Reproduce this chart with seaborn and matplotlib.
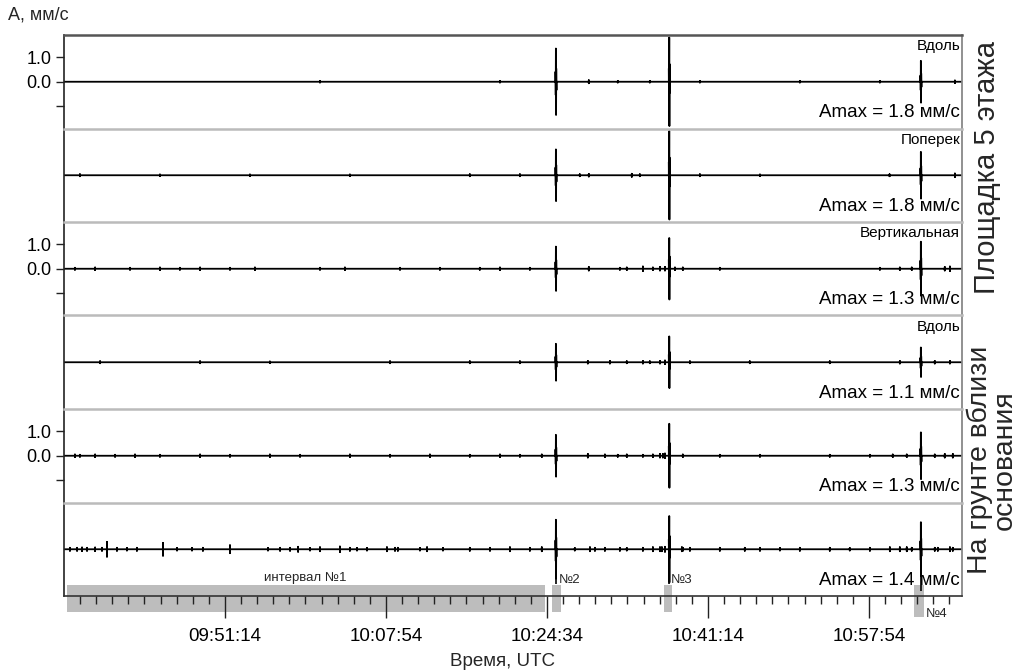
import numpy as np
import pandas as pd
import matplotlib
matplotlib.use("Agg")
import matplotlib.pyplot as plt
import seaborn as sns
from matplotlib.ticker import FixedLocator

sns.set_theme(style="ticks")
plt.rcParams['font.family'] = ['Liberation Sans', 'DejaVu Sans']

# ---------------- data ----------------
T_END = 5578                       # seconds after 09:34:34 (right edge of record)
event_times = [3056, 3760, 5323]   # strong events (№2, №3, №4)
channel_labels = ['Вдоль', 'Поперек', 'Вертикальная', 'Вдоль', '', '']
amax_values = [1.8, 1.8, 1.3, 1.1, 1.3, 1.4]
spike_amps = [
    [1.35, 1.80, 0.85],
    [1.05, 1.80, 0.95],
    [0.90, 1.25, 1.10],
    [0.75, 1.05, 0.60],
    [0.85, 1.30, 0.95],
    [1.20, 1.35, 1.10],
]
blips_p1 = [(1590, 0.03), (2708, 0.03), (3260, 0.06), (3440, 0.03), (3639, 0.03),
            (3950, 0.03), (4571, 0.03), (5068, 0.03), (5534, 0.05)]
blips_p2 = [(99, 0.04), (596, 0.03), (1155, 0.03), (1776, 0.03), (2521, 0.04),
            (2832, 0.04), (3204, 0.04), (3260, 0.05), (3527, 0.06), (3577, 0.04),
            (3950, 0.04), (4323, 0.03), (5128, 0.04), (5534, 0.07)]
blips_p3 = [(68, 0.04), (193, 0.05), (410, 0.04), (596, 0.05), (720, 0.04),
            (845, 0.05), (1031, 0.04), (1186, 0.05), (1590, 0.04), (1745, 0.05),
            (2087, 0.04), (2335, 0.04), (2583, 0.04), (2708, 0.05), (2894, 0.04),
            (3260, 0.07), (3453, 0.04), (3496, 0.05), (3596, 0.09), (3658, 0.05),
            (3702, 0.07), (3733, 0.07), (3795, 0.05), (3844, 0.05), (4074, 0.04),
            (5068, 0.04), (5192, 0.05), (5266, 0.05), (5471, 0.07), (5503, 0.09)]
blips_p4 = [(224, 0.04), (845, 0.04), (1279, 0.03), (2025, 0.04), (2521, 0.04),
            (2832, 0.04), (3254, 0.05), (3391, 0.05), (3496, 0.04), (3596, 0.05),
            (3639, 0.04), (3702, 0.05), (3733, 0.07), (3888, 0.04), (4260, 0.04),
            (4757, 0.04), (5192, 0.05), (5409, 0.05), (5503, 0.05)]
blips_p5 = [(68, 0.05), (99, 0.04), (193, 0.05), (317, 0.04), (441, 0.05),
            (596, 0.04), (845, 0.05), (1031, 0.04), (1279, 0.05), (1466, 0.04),
            (1776, 0.05), (2025, 0.04), (2273, 0.05), (2521, 0.04), (2708, 0.05),
            (2832, 0.04), (2968, 0.05), (3254, 0.07), (3360, 0.05), (3440, 0.04),
            (3496, 0.05), (3596, 0.04), (3658, 0.05), (3702, 0.07), (3720, 0.07),
            (3733, 0.09), (3844, 0.05), (4074, 0.04), (4323, 0.04), (4757, 0.04),
            (5006, 0.04), (5148, 0.05), (5235, 0.05), (5409, 0.05), (5471, 0.07),
            (5521, 0.07)]
blips_p6 = [(37, 0.06), (81, 0.06), (112, 0.07), (143, 0.06), (193, 0.07),
            (236, 0.06), (267, 0.30), (329, 0.06), (391, 0.05), (453, 0.06),
            (615, 0.26), (702, 0.05), (795, 0.05), (863, 0.06), (1031, 0.16),
            (1267, 0.05), (1342, 0.06), (1404, 0.06), (1454, 0.10), (1528, 0.05),
            (1590, 0.08), (1714, 0.11), (1776, 0.06), (1820, 0.05), (1882, 0.05),
            (2006, 0.08), (2056, 0.06), (2074, 0.06), (2211, 0.05), (2255, 0.08),
            (2354, 0.05), (2521, 0.06), (2646, 0.06), (2770, 0.08), (2894, 0.06),
            (2968, 0.08), (3173, 0.05), (3267, 0.08), (3298, 0.06), (3360, 0.06),
            (3453, 0.06), (3496, 0.05), (3596, 0.06), (3658, 0.08), (3702, 0.08),
            (3714, 0.08), (3733, 0.10), (3838, 0.08), (3844, 0.06), (3888, 0.06),
            (4074, 0.06), (4229, 0.06), (4323, 0.06), (4447, 0.05), (4571, 0.06),
            (4757, 0.06), (4881, 0.05), (5006, 0.06), (5130, 0.08), (5192, 0.08),
            (5235, 0.08), (5266, 0.06), (5409, 0.06), (5428, 0.06), (5503, 0.08),
            (5521, 0.06)]
blips = [blips_p1, blips_p2, blips_p3, blips_p4, blips_p5, blips_p6]

major_ticks = [1000, 2000, 3000, 4000, 5000]
major_labels = ['09:51:14', '10:07:54', '10:24:34', '10:41:14', '10:57:54']
interval_start = [19, 3031, 3727, 5280]
interval_end = [2987, 3087, 3776, 5342]
interval_names = ['интервал №1', '№2', '№3', '№4']

# ---------------- figure ----------------
W, H = 1017, 672
fig = plt.figure(figsize=(W / 100, H / 100), dpi=100)
left_px, right_px, top_px, bottom_px = 64, 962, 35, 596
panel_h = (bottom_px - top_px) / 6


def build_trace(bl, sp_amps):
    ev = [(t, a, 'b') for t, a in bl] + [(t, a, 's') for t, a in zip(event_times, sp_amps)]
    ev.sort()
    xs, ys = [0], [0]
    for t, a, kind in ev:
        if kind == 'b':
            xs += [t, t, t, t]
            ys += [0, a, -a, 0]
        else:
            xs += [t - 3, t - 3, t - 1.5, t - 0.5, t + 0.5, t + 1.5, t + 3, t + 3]
            ys += [0, 0.3 * a, -0.4 * a, a, -a, 0.4 * a, -0.25 * a, 0]
    xs.append(T_END)
    ys.append(0)
    return pd.DataFrame({'t': xs, 'v': ys})


axes = []
for i in range(6):
    ptop = top_px + i * panel_h
    rect = [left_px / W, 1 - (ptop + panel_h) / H, (right_px - left_px) / W, panel_h / H]
    ax = fig.add_axes(rect)
    axes.append(ax)
    df = build_trace(blips[i], spike_amps[i])
    sns.lineplot(data=df, x='t', y='v', ax=ax, color='black', linewidth=1.3,
                 estimator=None, sort=False)
    ax.set_xlim(0, T_END)
    ax.set_ylim(-1.9, 1.9)
    ax.set_xlabel('')
    ax.set_ylabel('')
    ax.set_facecolor('white')
    ax.spines['left'].set_color('#222222')
    ax.spines['left'].set_linewidth(1.2)
    ax.spines['right'].set_color('#888888')
    ax.spines['right'].set_linewidth(1.3)
    if i == 0:
        ax.spines['top'].set_color('#555555')
    else:
        ax.spines['top'].set_color('#bbbbbb')
    ax.spines['top'].set_linewidth(1.8)
    if i < 5:
        ax.spines['bottom'].set_visible(False)
        ax.set_xticks([])
    else:
        ax.spines['bottom'].set_color('#333333')
        ax.spines['bottom'].set_linewidth(1.2)
    if i in (0, 2, 4):
        ax.set_yticks([-1, 0, 1])
        ax.set_yticklabels(['', '0.0', '1.0'])
        ax.tick_params(axis='y', length=6, width=1, labelsize=13, pad=3,
                       color='#222222', labelcolor='black')
    else:
        ax.set_yticks([])
    if channel_labels[i]:
        ax.text(0.9978, 0.955, channel_labels[i], transform=ax.transAxes,
                ha='right', va='top', fontsize=11, color='black')
    ax.text(0.9978, 0.118, f'Amax = {amax_values[i]:.1f} мм/с', transform=ax.transAxes,
            ha='right', va='baseline', fontsize=13.5, color='black')

# bottom axis with time ticks and intervals
axb = axes[5]
axb.set_xticks(major_ticks)
axb.set_xticklabels(major_labels)
axb.xaxis.set_minor_locator(FixedLocator([m for m in range(100, 5600, 100) if m % 1000]))
axb.tick_params(axis='x', which='major', length=16, width=1, pad=7, labelsize=13.5,
                color='#222222', labelcolor='black')
axb.tick_params(axis='x', which='minor', length=6, width=1, color='#222222')

heights = [1.10, 1.10, 1.10, 1.30]
axb.bar(interval_start, heights,
        width=[e - s for s, e in zip(interval_start, interval_end)],
        bottom=[-2.56, -2.56, -2.56, -2.76], align='edge', color='#bdbdbd',
        edgecolor='none', clip_on=False, zorder=0.5)

# markers for events №2-№4
axb.vlines(event_times[:2], -1.42, 0, colors='black', linewidth=1.2, clip_on=False)
axb.vlines(event_times[2:], -1.7, 0, colors='black', linewidth=1.2, clip_on=False)
axb.text(1497, -1.18, interval_names[0], ha='center', va='center', fontsize=9.5, clip_on=False)
axb.text(event_times[0] + 18, -1.27, interval_names[1], ha='left', va='center', fontsize=9.5)
axb.text(event_times[1] + 12, -1.27, interval_names[2], ha='left', va='center', fontsize=9.5)
axb.text(event_times[2] + 31, -2.64, interval_names[3], ha='left', va='center', fontsize=9.5,
         clip_on=False)

fig.text(8 / W, 1 - 15 / H, 'A, мм/с', ha='left', va='center', fontsize=13)
fig.text(503 / W, 1 - 661 / H, 'Время, UTC', ha='center', va='center', fontsize=13.5)
fig.text(987 / W, 1 - 167 / H, 'Площадка 5 этажа', rotation=90, ha='center',
         va='center', fontsize=21)
fig.text(992 / W, 1 - 460 / H, 'На грунте вблизи\nоснования', rotation=90, ha='center',
         va='center', multialignment='center', fontsize=20.5, linespacing=0.95)

fig.savefig('out.png', dpi=100)
